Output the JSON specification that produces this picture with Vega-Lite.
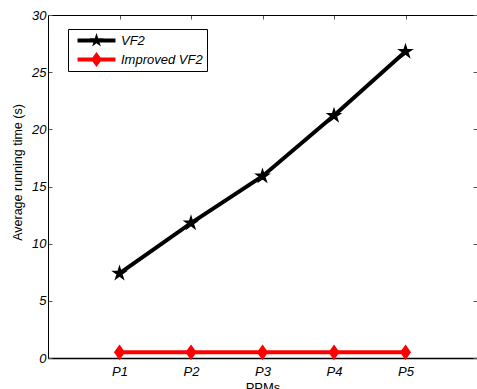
{
  "$schema": "https://vega.github.io/schema/vega-lite/v6.json",
  "width": 429,
  "height": 343,
  "autosize": {"type": "none"},
  "padding": {"left": 48, "top": 15, "right": 0, "bottom": 31},
  "background": "white",
  "config": {
    "view": {"stroke": null},
    "font": "Liberation Sans",
    "axis": {"grid": false, "labelFont": "Liberation Sans", "labelFontStyle": "italic", "labelFontSize": 13, "labelColor": "black", "titleFont": "Liberation Sans", "titleFontWeight": "normal", "titleFontSize": 13, "titleColor": "black", "domainColor": "black", "tickColor": "#555555"}
  },
  "data": {
    "values": [
      {"ppm": "P1", "method": "VF2", "time": 7.4},
      {"ppm": "P2", "method": "VF2", "time": 11.8},
      {"ppm": "P3", "method": "VF2", "time": 15.9},
      {"ppm": "P4", "method": "VF2", "time": 21.2},
      {"ppm": "P5", "method": "VF2", "time": 26.8},
      {"ppm": "P1", "method": "Improved VF2", "time": 0.5},
      {"ppm": "P2", "method": "Improved VF2", "time": 0.5},
      {"ppm": "P3", "method": "Improved VF2", "time": 0.5},
      {"ppm": "P4", "method": "Improved VF2", "time": 0.5},
      {"ppm": "P5", "method": "Improved VF2", "time": 0.5}
    ]
  },
  "layer": [
    {
      "mark": {"type": "line", "strokeWidth": 4},
      "encoding": {
        "x": {"field": "ppm", "type": "ordinal", "scale": {"type": "point", "padding": 1, "domain": ["P1", "P2", "P3", "P4", "P5"]},
              "axis": {"orient": "bottom", "title": "PPMs", "labelAngle": 0, "tickSize": -4, "labelPadding": 11, "domainWidth": 1.5, "titleY": 33, "titleBaseline": "alphabetic"}},
        "y": {"field": "time", "type": "quantitative", "scale": {"domain": [0, 30], "nice": false},
              "axis": {"orient": "left", "title": "Average running time (s)", "values": [0, 5, 10, 15, 20, 25, 30], "tickSize": -4, "labelPadding": 6, "domainWidth": 1, "titleX": -27, "titleY": 157, "titleAngle": -90, "titleAlign": "center", "titleBaseline": "alphabetic", "titleFontSize": 12.5, "titleFontStyle": "normal"}},
        "color": {"field": "method", "type": "nominal",
                  "scale": {"domain": ["VF2", "Improved VF2"], "range": ["black", "red"]},
                  "legend": {
                    "orient": "none", "legendX": 20, "legendY": 14, "title": null,
                    "strokeColor": "black", "fillColor": "white", "padding": 4,
                    "symbolSize": 225, "symbolOffset": 17, "labelOffset": 17, "rowPadding": 4,
                    "labelFont": "Liberation Sans", "labelFontStyle": "italic", "labelFontSize": 13, "labelColor": "black",
                    "symbolStrokeWidth": 0,
                    "encode": {
                      "symbols": {
                        "update": {
                          "shape": {"signal": "datum.value === 'VF2' ? 'M-2.53,-0.27H2.53V0.27H-2.53Z M0,-1L0.223,-0.307L0.951,-0.309L0.361,0.117L0.588,0.809L0,0.38L-0.588,0.809L-0.361,0.117L-0.951,-0.309L-0.223,-0.307Z' : 'M-2.53,-0.27H2.53V0.27H-2.53Z M0,-1L0.73,0L0,1L-0.73,0Z'"},
                          "fill": {"signal": "datum.value === 'VF2' ? 'black' : 'red'"},
                          "stroke": {"value": "transparent"},
                          "strokeWidth": {"value": 0},
                          "opacity": {"value": 1}
                        }
                      }
                    }
                  }}
      }
    },
    {
      "transform": [{"filter": "datum.method === 'VF2'"}],
      "mark": {"type": "point", "filled": true, "color": "black", "stroke": "black", "strokeWidth": 1.5, "opacity": 1, "size": 160,
               "shape": "M0,-1L0.223,-0.307L0.951,-0.309L0.361,0.117L0.588,0.809L0,0.38L-0.588,0.809L-0.361,0.117L-0.951,-0.309L-0.223,-0.307Z"},
      "encoding": {
        "x": {"field": "ppm", "type": "ordinal", "scale": {"type": "point", "padding": 1, "domain": ["P1", "P2", "P3", "P4", "P5"]},
              "axis": {"orient": "top", "title": null, "labels": false, "domain": true, "domainColor": "black", "domainWidth": 1, "tickSize": -4}},
        "y": {"field": "time", "type": "quantitative", "scale": {"domain": [0, 30], "nice": false},
              "axis": {"orient": "right", "title": null, "labels": false, "domain": false, "values": [0, 5, 10, 15, 20, 25, 30], "tickSize": -4}}
      }
    },
    {
      "transform": [{"filter": "datum.method === 'Improved VF2'"}],
      "mark": {"type": "point", "filled": true, "color": "red", "stroke": "red", "strokeWidth": 2, "opacity": 1, "size": 150,
               "shape": "M0,-1L0.7,0L0,1L-0.7,0Z"},
      "encoding": {
        "x": {"field": "ppm", "type": "ordinal", "scale": {"type": "point", "padding": 1, "domain": ["P1", "P2", "P3", "P4", "P5"]}, "axis": null},
        "y": {"field": "time", "type": "quantitative", "scale": {"domain": [0, 30], "nice": false}, "axis": null}
      }
    }
  ],
  "resolve": {"axis": {"x": "independent", "y": "independent"}}
}
